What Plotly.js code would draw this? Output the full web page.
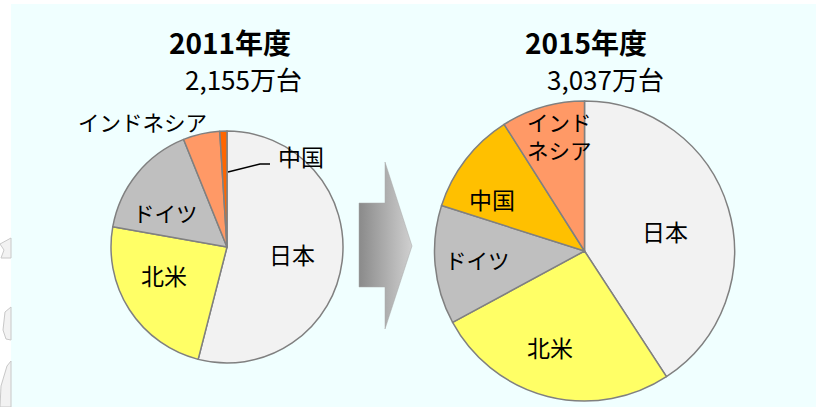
<!DOCTYPE html>
<html>
<head>
<meta charset="utf-8">
<script src="https://cdn.plot.ly/plotly-3.0.1.min.js"></script>
<style>html,body{margin:0;padding:0;background:#fff;}#chart{width:816px;height:407px;}</style>
</head>
<body>
<div id="chart"></div>
<script>
// ---- data ----
const labels2011 = ["日本", "北米", "ドイツ", "インドネシア", "中国"];
const values2011 = [54.0, 23.8, 16.1, 5.1, 1.0];
const labels2015 = ["日本", "北米", "ドイツ", "中国", "インドネシア"];
const values2015 = [40.8, 26.3, 12.8, 11.1, 9.0];
const title2011 = "2011年度";
const total2011 = "2,155万台";
const title2015 = "2015年度";
const total2015 = "3,037万台";

// ---- styling ----
const W = 816, H = 407;
const colorMap = {"日本": "#F2F2F2", "北米": "#FFFF66", "ドイツ": "#BFBFBF", "インドネシア": "#FF9966"};
const chinaColor2011 = "#FF6600", chinaColor2015 = "#FFC000";
const FONT = "Noto Sans CJK JP, Noto Sans, sans-serif";
const px = x => x / W;
const py = y => 1 - y / H;

function colorsFor(labels, chinaColor) {
  return labels.map(l => l === "中国" ? chinaColor : colorMap[l]);
}

function pieTrace(labels, values, chinaColor, cx, cy, r) {
  return {
    type: "pie", labels: labels, values: values, sort: false,
    direction: "clockwise", rotation: 0, textinfo: "none", hoverinfo: "label+percent",
    marker: {colors: colorsFor(labels, chinaColor), line: {color: "#808080", width: 1.5}},
    domain: {x: [px(cx - r), px(cx + r)], y: [py(cy + r), py(cy - r)]},
    showlegend: false
  };
}

// arrow (decoration) drawn on hidden pixel axes
const arrowX = [359, 385, 385, 412, 385, 385, 359, 359];
const arrowY = [203, 203, 162, 246, 329, 287, 287, 203];
const arrow = {
  type: "scatter", mode: "lines", x: arrowX, y: arrowY, fill: "toself",
  fillgradient: {type: "horizontal", colorscale: [[0, "#8A8A8A"], [1, "#D0D0D0"]]},
  line: {color: "#A8A8A8", width: 0.5}, hoverinfo: "skip", showlegend: false
};

// label placements (pixel centers)
const pos2011 = {"日本": [292, 254], "北米": [164, 275], "ドイツ": [165, 212], "インドネシア": [142, 122], "中国": [301, 156]};
const pos2015 = {"日本": [665, 231], "北米": [550, 347], "ドイツ": [477, 259], "中国": [492, 199], "インドネシア": [525, 135]};
const isKana = t => /[\u30A0-\u30FF]/.test(t);

const ann = [];
function lab(text, x, y, size, bold, align) {
  ann.push({
    xref: "paper", yref: "paper", x: px(x), y: py(y), text: bold ? "<b>" + text + "</b>" : text,
    showarrow: false, xanchor: align || "center", yanchor: "middle", align: align || "center",
    font: {family: FONT, size: size, color: "#000"}
  });
}
labels2011.forEach(l => lab(l, pos2011[l][0], pos2011[l][1], isKana(l) ? 21.5 : 23));
labels2015.forEach(l => {
  if (l === "インドネシア") {
    ann.push({xref: "paper", yref: "paper", x: px(pos2015[l][0]), y: py(pos2015[l][1]),
      text: "インド<br>ネシア", showarrow: false, xanchor: "left", yanchor: "middle", align: "left",
      font: {family: FONT, size: 21.5, color: "#000"}});
  } else lab(l, pos2015[l][0], pos2015[l][1], isKana(l) ? 21.5 : 23);
});
lab(title2011, 230, 42, 28, true);
lab(total2011, 243, 78, 26, false);
lab(title2015, 586, 42, 28, true);
lab(total2015, 605, 78, 26, false);

const shapes = [
  {type: "rect", xref: "paper", yref: "paper", x0: px(11), x1: 1, y0: 0, y1: py(4),
   fillcolor: "#F0FFFF", line: {width: 0}, layer: "below"},
  // leader line for 中国 (2011)
  {type: "path", xref: "paper", yref: "paper",
   path: `M ${px(228)} ${py(172)} L ${px(260)} ${py(164)} L ${px(270)} ${py(164)}`,
   line: {color: "#000", width: 1.5}, layer: "above"},
  // cropped decorative fragments on left edge
  {type: "path", xref: "paper", yref: "paper",
   path: `M ${px(11)} ${py(238)} L ${px(0)} ${py(244)} L ${px(4)} ${py(250)} L ${px(1)} ${py(258)} L ${px(11)} ${py(258)} Z`,
   fillcolor: "#F2F2F2", line: {color: "#C8C8C8", width: 1}, layer: "below"},
  {type: "path", xref: "paper", yref: "paper",
   path: `M ${px(11)} ${py(307)} L ${px(5)} ${py(312)} L ${px(3)} ${py(330)} L ${px(6)} ${py(339)} L ${px(11)} ${py(340)} Z`,
   fillcolor: "#F2F2F2", line: {color: "#C8C8C8", width: 1}, layer: "below"},
  {type: "path", xref: "paper", yref: "paper",
   path: `M ${px(11)} ${py(361)} L ${px(7)} ${py(366)} L ${px(1)} ${py(386)} L ${px(0)} ${py(407)} L ${px(11)} ${py(407)} Z`,
   fillcolor: "#F2F2F2", line: {color: "#C8C8C8", width: 1}, layer: "below"}
];

const data = [
  arrow,
  pieTrace(labels2011, values2011, chinaColor2011, 227, 247, 116),
  pieTrace(labels2015, values2015, chinaColor2015, 584.5, 251, 150)
];

const layout = {
  width: W, height: H, margin: {l: 0, r: 0, t: 0, b: 0},
  paper_bgcolor: "#FFFFFF", plot_bgcolor: "rgba(0,0,0,0)",
  xaxis: {range: [0, W], visible: false, fixedrange: true, domain: [0, 1]},
  yaxis: {range: [H, 0], visible: false, fixedrange: true, domain: [0, 1]},
  annotations: ann, shapes: shapes, showlegend: false,
  font: {family: FONT}
};

Plotly.newPlot("chart", data, layout, {displayModeBar: false, staticPlot: true});
</script>
</body>
</html>
